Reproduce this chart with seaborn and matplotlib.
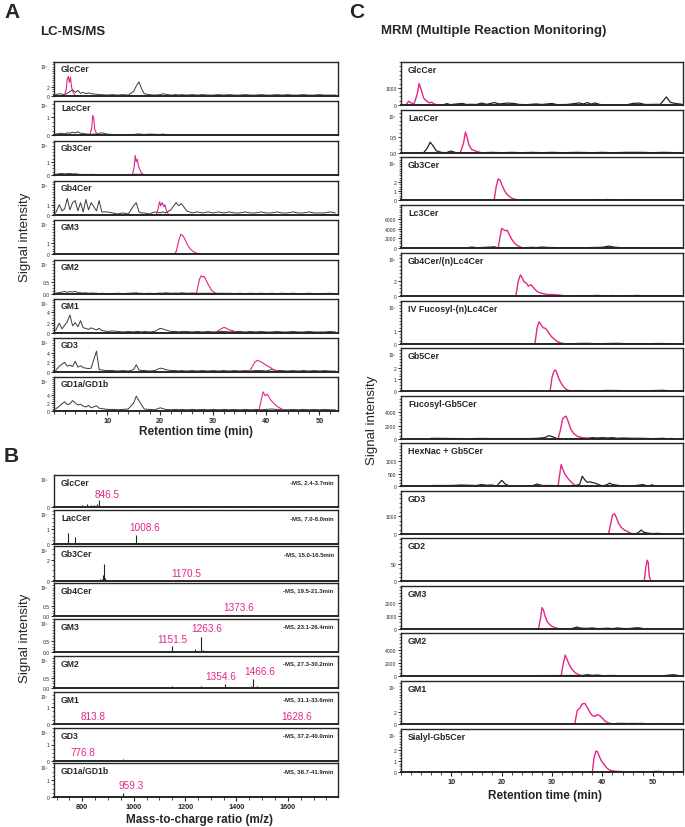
import numpy as np
import matplotlib
matplotlib.use("Agg")
import matplotlib.pyplot as plt
import matplotlib.ticker as mticker
import seaborn as sns

sns.set_style("ticks")
plt.rcParams["font.family"] = ["Liberation Sans", "DejaVu Sans"]

PINK = "#e3258c"
BLACK = "#222222"

# ---------------- Panel A: LC-MS/MS chromatograms (x1e5) ----------------
a_names = ["GlcCer", "LacCer", "Gb3Cer", "Gb4Cer", "GM3", "GM2", "GM1", "GD3", "GD1a/GD1b"]
a_ymax = [7.5, 1.9, 2.6, 3.3, 3.1, 1.4, 6.6, 7.0, 8.5]
a_yticks = [[0, 2], [0, 1], [0, 1], [0, 1], [0, 1], [0.0, 0.5], [0, 2, 4], [0, 2, 4], [0, 2, 4]]
a_ytlab = [["0", "2"], ["0", "1"], ["0", "1"], ["0", "1"], ["0", "1"], ["0.0", "0.5"],
           ["0", "2", "4"], ["0", "2", "4"], ["0", "2", "4"]]

a_time = [0.3, 1, 1.5, 2, 2.5, 3, 3.5, 4, 4.5, 5, 5.5, 6, 6.5, 7, 8, 8.5, 9, 10, 11, 12, 13, 14, 15,
          15.5, 16, 16.5, 17, 18, 19, 20, 20.5, 21, 22, 23, 23.5, 24, 25, 26, 27, 28, 29, 30, 31, 32,
          33, 34, 35, 36, 37, 38, 39, 40, 41, 42, 43, 44, 45, 46, 47, 48, 49, 50, 51, 52, 53]
a_black = [
    [0.3, 0.5, 0.4, 0.3, 0.6, 1.0, 1.4, 0.8, 1.2, 0.6, 0.8, 0.5, 0.7, 0.5, 0.4, 0.3, 0.3, 0.2, 0.3,
     0.2, 0.3, 0.2, 1.0, 2.2, 3.1, 1.6, 0.5, 0.3, 0.2, 0.3, 0.5, 0.4, 0.2, 0.3, 0.2, 0.3, 0.2, 0.3,
     0.2, 0.3, 0.2, 0.2, 0.3, 0.2, 0.3, 0.2, 0.2, 0.3, 0.2, 0.2, 0.3, 0.2, 0.2, 0.3, 0.2, 0.3, 0.2,
     0.2, 0.3, 0.2, 0.2, 0.3, 0.2, 0.2, 0.2],
    [0.05, 0.08, 0.1, 0.06, 0.12, 0.1, 0.15, 0.12, 0.18, 0.1, 0.08, 0.06, 0.05, 0.04, 0.06, 0.1, 0.12,
     0.05, 0.03, 0.02, 0.02, 0.03, 0.02, 0.05, 0.06, 0.04, 0.03, 0.05, 0.04, 0.03, 0.05, 0.03, 0.02,
     0.03, 0.02, 0.02, 0.02, 0.02, 0.03, 0.02, 0.02, 0.02, 0.02, 0.03, 0.02, 0.02, 0.02, 0.03, 0.02,
     0.02, 0.02, 0.02, 0.03, 0.02, 0.02, 0.02, 0.02, 0.02, 0.02, 0.03, 0.02, 0.02, 0.02, 0.02, 0.02],
    [0.05, 0.1, 0.12, 0.08, 0.1, 0.12, 0.08, 0.1, 0.06, 0.05, 0.04, 0.05, 0.04, 0.05, 0.04, 0.04, 0.03,
     0.03, 0.04, 0.03, 0.03, 0.04, 0.05, 0.06, 0.05, 0.06, 0.04, 0.03, 0.04, 0.03, 0.04, 0.03, 0.03,
     0.04, 0.03, 0.03, 0.04, 0.03, 0.03, 0.04, 0.03, 0.03, 0.03, 0.04, 0.03, 0.03, 0.04, 0.03, 0.03,
     0.03, 0.04, 0.03, 0.03, 0.03, 0.04, 0.03, 0.03, 0.03, 0.03, 0.04, 0.03, 0.03, 0.03, 0.03, 0.03],
    [0.2, 1.0, 0.4, 0.6, 1.6, 0.5, 1.2, 1.4, 0.4, 1.2, 0.3, 1.5, 0.5, 1.2, 0.4, 1.4, 0.3, 0.3, 0.2,
     0.1, 0.2, 0.1, 0.9, 1.2, 0.3, 0.2, 0.2, 0.1, 0.3, 0.2, 0.3, 0.2, 0.5, 1.2, 0.9, 1.1, 0.4, 0.2,
     0.3, 0.2, 0.3, 0.2, 0.3, 0.2, 0.3, 0.2, 0.2, 0.3, 0.2, 0.2, 0.3, 0.2, 0.2, 0.3, 0.2, 0.2, 0.3,
     0.2, 0.2, 0.3, 0.2, 0.2, 0.2, 0.3, 0.2],
    [0.02, 0.03, 0.02, 0.04, 0.02, 0.03, 0.02, 0.03, 0.02, 0.02, 0.02, 0.02, 0.02, 0.02, 0.02, 0.02,
     0.02, 0.02, 0.02, 0.02, 0.02, 0.02, 0.02, 0.02, 0.03, 0.02, 0.02, 0.02, 0.02, 0.02, 0.02, 0.02,
     0.02, 0.02, 0.02, 0.02, 0.02, 0.02, 0.03, 0.04, 0.03, 0.02, 0.02, 0.02, 0.02, 0.02, 0.02, 0.02,
     0.02, 0.02, 0.02, 0.02, 0.02, 0.02, 0.02, 0.02, 0.02, 0.02, 0.02, 0.02, 0.02, 0.02, 0.02, 0.02, 0.02],
    [0.03, 0.06, 0.08, 0.1, 0.07, 0.1, 0.08, 0.11, 0.06, 0.05, 0.04, 0.05, 0.03, 0.04, 0.03, 0.02,
     0.03, 0.02, 0.02, 0.03, 0.02, 0.03, 0.04, 0.05, 0.03, 0.03, 0.02, 0.03, 0.02, 0.04, 0.03, 0.05,
     0.03, 0.04, 0.03, 0.05, 0.03, 0.04, 0.03, 0.03, 0.03, 0.03, 0.03, 0.03, 0.03, 0.02, 0.03, 0.02,
     0.03, 0.02, 0.03, 0.02, 0.03, 0.02, 0.03, 0.02, 0.03, 0.02, 0.02, 0.03, 0.02, 0.02, 0.02, 0.03, 0.02],
    [0.5, 1.9, 0.8, 1.5, 2.2, 3.5, 1.4, 2.0, 1.2, 2.4, 1.0, 0.9, 0.7, 1.0, 0.6, 0.9, 0.5, 0.3, 0.4,
     0.3, 0.2, 0.3, 0.2, 0.3, 0.3, 0.2, 0.3, 0.2, 0.3, 0.9, 0.8, 0.6, 0.3, 0.3, 0.2, 0.3, 0.3, 0.2,
     0.3, 0.2, 0.3, 0.2, 0.3, 0.3, 0.2, 0.3, 0.3, 0.2, 0.3, 0.2, 0.3, 0.2, 0.2, 0.3, 0.2, 0.2, 0.3,
     0.2, 0.2, 0.3, 0.2, 0.2, 0.2, 0.3, 0.2],
    [0.3, 1.2, 1.6, 2.0, 1.2, 1.4, 1.1, 2.2, 1.0, 1.3, 0.9, 0.8, 0.7, 0.8, 4.3, 0.5, 0.4, 0.3, 0.3,
     0.2, 0.3, 0.2, 0.5, 1.5, 0.4, 0.3, 0.3, 0.2, 0.3, 0.8, 0.7, 0.5, 0.3, 0.3, 0.2, 0.3, 0.2, 0.3,
     0.2, 0.3, 0.2, 0.3, 0.2, 0.3, 0.2, 0.3, 0.2, 0.3, 0.2, 0.3, 0.3, 0.2, 0.5, 0.3, 0.3, 0.2, 0.3,
     0.2, 0.3, 0.2, 0.3, 0.2, 0.3, 0.2, 0.2],
    [0.5, 1.2, 1.8, 2.3, 1.6, 1.8, 2.6, 2.0, 1.5, 1.7, 1.2, 1.0, 1.4, 0.8, 1.3, 0.7, 0.6, 0.4, 0.4,
     0.3, 0.4, 0.5, 2.0, 3.7, 2.6, 1.5, 0.5, 0.4, 0.3, 0.8, 0.6, 0.4, 0.3, 0.4, 0.3, 0.4, 0.3, 0.4,
     0.3, 0.4, 0.3, 0.4, 0.3, 0.4, 0.3, 0.4, 0.3, 0.4, 0.3, 0.4, 0.3, 0.4, 0.5, 0.4, 0.4, 0.3, 0.4,
     0.3, 0.4, 0.3, 0.4, 0.3, 0.4, 0.3, 0.3],
]
a_pink_t = [
    [2.0, 2.3, 2.5, 2.7, 2.9, 3.1, 3.3, 3.6, 3.9],
    [6.8, 7.1, 7.3, 7.5, 7.7, 8.0, 8.3],
    [14.8, 15.1, 15.3, 15.5, 15.7, 15.9, 16.1, 16.4, 16.8],
    [19.3, 19.6, 19.9, 20.1, 20.4, 20.7, 20.9, 21.2, 21.5],
    [22.7, 23.0, 23.3, 23.6, 23.9, 24.2, 24.5, 24.9, 25.3, 25.8, 26.3, 26.8, 27.3],
    [26.8, 27.1, 27.4, 27.7, 28.0, 28.3, 28.6, 28.9, 29.3, 29.7, 30.2, 30.7],
    [30.5, 31.0, 31.5, 32.0, 32.5, 33.0, 33.5, 34.0, 34.5],
    [36.8, 37.3, 37.8, 38.3, 38.8, 39.3, 39.8, 40.3, 40.8, 41.3, 41.8, 42.3],
    [38.6, 39.0, 39.4, 39.8, 40.2, 40.6, 41.0, 41.5, 42.0, 42.5, 43.0, 43.5],
]
a_pink_y = [
    [0.2, 1.5, 3.8, 4.3, 3.0, 4.2, 2.0, 0.8, 0.3],
    [0.05, 0.4, 1.1, 0.9, 0.3, 0.1, 0.05],
    [0.05, 0.6, 1.5, 1.0, 1.2, 0.7, 0.5, 0.2, 0.05],
    [0.1, 0.6, 1.3, 0.9, 1.2, 0.8, 1.0, 0.4, 0.1],
    [0.0, 0.2, 0.8, 1.4, 1.8, 1.7, 1.5, 1.1, 0.7, 0.4, 0.2, 0.08, 0.02],
    [0.0, 0.3, 0.6, 0.75, 0.7, 0.72, 0.6, 0.45, 0.3, 0.15, 0.06, 0.02],
    [0.1, 0.5, 0.8, 1.1, 0.9, 0.6, 0.5, 0.3, 0.1],
    [0.1, 1.0, 2.0, 2.4, 2.2, 1.9, 1.5, 1.2, 0.9, 0.5, 0.3, 0.1],
    [0.1, 2.5, 4.8, 3.8, 4.2, 3.2, 2.5, 1.8, 1.2, 0.8, 0.4, 0.1],
]

# ---------------- Panel B: MS spectra (x1e5) ----------------
b_names = a_names
b_ranges = ["-MS, 2.4-3.7min", "-MS, 7.0-8.0min", "-MS, 15.0-16.5min", "-MS, 19.5-21.3min",
            "-MS, 23.1-26.4min", "-MS, 27.3-30.2min", "-MS, 31.1-33.6min", "-MS, 37.2-40.0min",
            "-MS, 38.7-41.9min"]
b_ymax = [1.0, 2.3, 3.3, 1.6, 1.5, 1.6, 1.9, 2.0, 2.0]
b_yticks = [[0], [0, 1], [0, 2], [0.0, 0.5], [0.0, 0.5], [0.0, 0.5], [0, 1], [0, 1], [0, 1]]
b_ytlab = [["0"], ["0", "1"], ["0", "2"], ["0.0", "0.5"], ["0.0", "0.5"], ["0.0", "0.5"],
           ["0", "1"], ["0", "1"], ["0", "1"]]
b_mz = [
    [700, 725, 745, 770, 800, 812, 820, 835, 845, 857, 866, 880, 900, 950, 1000, 1050, 1100, 1150,
     1200, 1265, 1300, 1350, 1400, 1450, 1500, 1550, 1600, 1650, 1700, 1760],
    [700, 720, 746, 760, 773, 785, 800, 850, 896, 940, 975, 985, 1000, 1008, 1020, 1035, 1100, 1200,
     1263, 1300, 1400, 1500, 1600, 1700, 1780],
    [700, 760, 820, 860, 868, 875, 880, 885, 890, 900, 950, 1000, 1100, 1170, 1200, 1263, 1300, 1400,
     1500, 1600, 1700, 1780],
    [700, 750, 800, 850, 885, 920, 960, 1000, 1050, 1100, 1150, 1200, 1263, 1300, 1350, 1380, 1420,
     1460, 1500, 1550, 1600, 1650, 1700, 1760],
    [700, 760, 820, 880, 940, 1000, 1060, 1100, 1151, 1160, 1200, 1237, 1250, 1263, 1270, 1280, 1293,
     1320, 1400, 1500, 1600, 1700, 1780],
    [700, 760, 820, 880, 940, 1000, 1060, 1100, 1151, 1200, 1237, 1263, 1300, 1354, 1380, 1420, 1440,
     1455, 1466, 1480, 1500, 1540, 1600, 1700, 1780],
    [700, 760, 820, 880, 940, 1000, 1060, 1120, 1180, 1263, 1320, 1380, 1440, 1500, 1560, 1620, 1680,
     1740, 1780],
    [700, 760, 800, 850, 900, 930, 958, 975, 1000, 1060, 1120, 1180, 1263, 1320, 1380, 1440, 1500,
     1560, 1620, 1700, 1780],
    [700, 740, 780, 820, 860, 890, 920, 940, 958, 975, 1000, 1060, 1120, 1180, 1263, 1320, 1380, 1440,
     1500, 1560, 1620, 1700, 1780],
]
b_int = [
    [0.02, 0.02, 0.03, 0.02, 0.06, 0.04, 0.09, 0.07, 0.05, 0.08, 0.22, 0.03, 0.02, 0.02, 0.02, 0.01,
     0.02, 0.01, 0.02, 0.03, 0.01, 0.02, 0.01, 0.02, 0.01, 0.02, 0.01, 0.02, 0.01, 0.01],
    [0.02, 0.03, 0.75, 0.05, 0.5, 0.06, 0.03, 0.03, 0.06, 0.03, 0.05, 0.07, 0.04, 0.6, 0.06, 0.08,
     0.02, 0.02, 0.03, 0.02, 0.02, 0.02, 0.02, 0.02, 0.02],
    [0.02, 0.02, 0.03, 0.1, 0.2, 0.15, 0.6, 1.6, 0.3, 0.1, 0.03, 0.02, 0.02, 0.04, 0.02, 0.03, 0.02,
     0.02, 0.02, 0.02, 0.02, 0.02],
    [0.02, 0.02, 0.02, 0.02, 0.05, 0.02, 0.02, 0.02, 0.02, 0.02, 0.03, 0.02, 0.04, 0.02, 0.02, 0.04,
     0.02, 0.02, 0.02, 0.02, 0.02, 0.02, 0.02, 0.02],
    [0.01, 0.01, 0.01, 0.02, 0.01, 0.01, 0.02, 0.02, 0.27, 0.03, 0.02, 0.12, 0.04, 0.68, 0.08, 0.05,
     0.06, 0.02, 0.01, 0.01, 0.01, 0.01, 0.01],
    [0.01, 0.01, 0.02, 0.01, 0.02, 0.02, 0.01, 0.02, 0.08, 0.02, 0.04, 0.1, 0.03, 0.18, 0.04, 0.03,
     0.05, 0.08, 0.45, 0.08, 0.05, 0.04, 0.02, 0.01, 0.01],
    [0.02, 0.02, 0.02, 0.02, 0.02, 0.02, 0.02, 0.02, 0.02, 0.04, 0.02, 0.02, 0.02, 0.02, 0.02, 0.02,
     0.02, 0.02, 0.02],
    [0.02, 0.02, 0.03, 0.02, 0.02, 0.03, 0.15, 0.03, 0.02, 0.02, 0.02, 0.02, 0.02, 0.02, 0.02, 0.02,
     0.02, 0.02, 0.02, 0.02, 0.02],
    [0.02, 0.03, 0.02, 0.02, 0.03, 0.04, 0.04, 0.03, 0.22, 0.04, 0.03, 0.02, 0.02, 0.02, 0.02, 0.02,
     0.02, 0.02, 0.02, 0.02, 0.02, 0.02, 0.02],
]
# pink peak labels: (text, m/z centre, fraction of axis height)
b_labels = [
    [("846.5", 896, 0.42)],
    [("1008.6", 1042, 0.5)],
    [("1170.5", 1204, 0.24)],
    [("1373.6", 1408, 0.28)],
    [("1263.6", 1285, 0.74), ("1151.5", 1150, 0.38)],
    [("1354.6", 1338, 0.36), ("1466.6", 1492, 0.54)],
    [("813.8", 842, 0.24), ("1628.6", 1635, 0.24)],
    [("776.8", 804, 0.28)],
    [("959.3", 992, 0.36)],
]

# ---------------- Panel C: MRM chromatograms ----------------
c_names = ["GlcCer", "LacCer", "Gb3Cer", "Lc3Cer", "Gb4Cer/(n)Lc4Cer", "IV Fucosyl-(n)Lc4Cer",
           "Gb5Cer", "Fucosyl-Gb5Cer", "HexNac + Gb5Cer", "GD3", "GD2", "GM3", "GM2", "GM1",
           "Sialyl-Gb5Cer"]
c_ymax = [2500, 1.35, 4.8, 9000, 5.7, 3.3, 3.7, 6400, 1750, 2400, 128, 3300, 6600, 7.3, 3.9]
c_yticks = [[0, 1000], [0.0, 0.5], [0, 1, 2], [0, 2000, 4000, 6000], [0, 2], [0, 1], [0, 1, 2],
            [0, 2000, 4000], [0, 500, 1000], [0, 1000], [0, 50], [0, 1000, 2000], [0, 2000, 4000],
            [0, 2], [0, 1, 2]]
c_ytlab = [["0", "1000"], ["0.0", "0.5"], ["0", "1", "2"], ["0", "2000", "4000", "6000"],
           ["0", "2"], ["0", "1"], ["0", "1", "2"], ["0", "2000", "4000"], ["0", "500", "1000"],
           ["0", "1000"], ["0", "50"], ["0", "1000", "2000"], ["0", "2000", "4000"], ["0", "2"],
           ["0", "1", "2"]]
c_exp = [False, True, True, False, True, True, True, False, False, False, False, False, False,
         True, True]
c_pink_t = [
    [1.0, 1.5, 2.0, 2.6, 3.2, 3.6, 4.0, 4.5, 5.0, 5.6, 6.1, 6.6, 7.2],
    [11.2, 11.8, 12.4, 12.8, 13.1, 13.5, 14.0, 14.5, 15.0, 15.5, 16.0, 16.5],
    [18.5, 18.9, 19.3, 19.7, 20.1, 20.6, 21.1, 21.6, 22.2, 22.8, 23.5],
    [19.3, 19.7, 20.0, 20.4, 20.8, 21.1, 21.5, 22.0, 22.5, 23.0, 23.5, 24.0, 24.5],
    [22.8, 23.3, 23.7, 24.0, 24.4, 24.9, 25.3, 25.8, 26.2, 26.7, 27.3, 28, 29, 30, 31, 32, 33],
    [26.6, 27.0, 27.4, 27.8, 28.2, 28.7, 29.2, 29.8, 30.5, 31.2, 32.0, 33.0],
    [29.6, 30.0, 30.4, 30.7, 31.0, 31.4, 31.9, 32.4, 33.0, 33.6],
    [31.2, 31.7, 32.1, 32.5, 32.8, 33.2, 33.7, 34.3, 35.0, 36.0, 37.0],
    [31.2, 31.5, 31.8, 32.1, 32.5, 33.0, 33.6, 34.2, 34.8],
    [41.2, 41.6, 42.0, 42.4, 42.8, 43.2, 43.8, 44.5, 45.2, 46.0],
    [48.3, 48.6, 48.9, 49.1, 49.3, 49.6],
    [27.3, 27.7, 28.0, 28.3, 28.6, 29.0, 29.5, 30.0, 30.6, 31.3, 32.0],
    [31.8, 32.2, 32.6, 33.0, 33.5, 34.0, 34.6, 35.3, 36.0],
    [34.5, 35.0, 35.5, 36.0, 36.5, 37.0, 37.5, 38.0, 38.5, 39.0, 39.5, 40.0, 40.5, 41.0, 42.0],
    [38.0, 38.3, 38.7, 39.0, 39.4, 39.8, 40.3, 40.8, 41.3, 42.0, 43.0, 44.0, 45.0],
]
c_pink_y = [
    [0, 220, 120, 80, 600, 1250, 900, 400, 250, 120, 160, 60, 0],
    [0.0, 0.02, 0.3, 0.66, 0.5, 0.25, 0.12, 0.08, 0.05, 0.03, 0.01, 0.0],
    [0, 1.5, 2.35, 2.2, 1.6, 1.0, 0.6, 0.35, 0.15, 0.06, 0],
    [0, 2500, 4100, 3800, 3600, 3700, 2800, 1800, 1100, 600, 300, 100, 0],
    [0, 2.0, 2.8, 2.5, 1.9, 1.7, 1.3, 1.5, 1.2, 0.8, 0.5, 0.35, 0.2, 0.2, 0.15, 0.08, 0],
    [0, 1.2, 1.7, 1.5, 1.25, 1.2, 0.95, 0.6, 0.35, 0.15, 0.05, 0],
    [0, 1.2, 1.75, 1.8, 1.5, 1.0, 0.6, 0.3, 0.1, 0],
    [0, 1500, 3000, 3300, 3400, 2600, 1500, 800, 400, 200, 100],
    [0, 450, 870, 700, 500, 350, 200, 80, 0],
    [0, 500, 1050, 1130, 900, 600, 350, 200, 100, 0],
    [0, 40, 62, 55, 15, 0],
    [0, 800, 1640, 1450, 1000, 600, 350, 200, 100, 30, 0],
    [0, 1800, 3200, 2500, 1600, 1000, 500, 200, 0],
    [0, 2.3, 2.7, 3.4, 3.5, 2.8, 2.0, 1.4, 1.3, 1.6, 1.4, 1.0, 0.5, 0.25, 0],
    [0, 1.2, 1.9, 1.85, 1.4, 1.0, 0.7, 0.4, 0.2, 0.1, 0.05, 0.04, 0],
]
c_black_t = [
    [7.2, 8.5, 9.1, 9.8, 11, 12.2, 13, 14, 15, 16, 17, 18.5, 19.5, 21, 22.5, 23.5, 25, 26.8, 28, 30,
     31, 33, 35.4, 36.2, 37, 37.8, 38.5, 39.5, 41, 45, 46, 47.3, 48.5, 51.5, 52.7, 53.5, 54.7, 55.8],
    [3, 4.5, 5.2, 5.8, 6.4, 7, 8, 9, 9.5, 10, 10.5, 11.2, 16.5, 18, 20, 22, 24, 26, 28, 30, 32, 35,
     38, 40, 42, 45, 48, 50, 52, 55],
    [23.5, 30, 37, 38, 40, 41, 42, 44, 46, 48],
    [13, 14, 15, 16, 17, 18, 18.5, 19.3, 24.5, 26, 27, 28, 29, 30, 32, 34, 36, 38, 40, 41.3, 42.5, 44,
     46, 48],
    [33, 35, 37, 39, 40, 42, 44, 46, 47, 48, 50, 52, 54, 55.5],
    [15, 33, 35, 37, 39, 41, 43, 45, 47, 49, 51, 53, 55],
    [26, 28, 29.6, 33.6, 35, 37, 39, 41, 43, 45, 47, 49, 51, 52, 53],
    [6, 13, 16, 18, 25, 27, 28.5, 29.4, 30.2, 31.2, 37, 38, 39, 40, 41, 42, 43, 44, 46, 48, 50, 52,
     53, 54],
    [6, 10, 12, 15, 16, 17, 18, 19, 20, 20.7, 21.5, 22, 26, 27, 28, 30, 31.2, 34.8, 35.5, 36, 36.5,
     37, 37.5, 38, 38.5, 39, 40, 41, 41.4, 42, 43, 44, 46, 48, 49, 50],
    [46, 47, 47.7, 48.2, 49, 50, 51, 52],
    [48.3],
    [32, 33, 34, 35, 35.5, 36, 37, 38, 39, 40, 41, 42, 43, 44, 45, 46, 47, 48],
    [13, 24, 36, 37, 38, 39, 40, 42, 44, 46, 48, 50, 52, 54, 55],
    [42, 43, 44, 45, 46, 47, 48, 49, 50, 51, 52],
    [45, 46, 47, 49, 50, 51, 52],
]
c_black_y = [
    [0, 20, 80, 20, 60, 90, 30, 40, 30, 110, 40, 140, 60, 110, 90, 30, 20, 60, 30, 90, 20, 30, 120,
     60, 140, 50, 120, 30, 0, 20, 90, 110, 30, 40, 470, 150, 80, 40],
    [0, 0.01, 0.15, 0.34, 0.22, 0.07, 0.02, 0.01, 0.04, 0.06, 0.03, 0.0, 0.01, 0.02, 0.01, 0.02,
     0.01, 0.02, 0.01, 0.02, 0.01, 0.02, 0.01, 0.02, 0.01, 0.02, 0.02, 0.01, 0.02, 0.01],
    [0.02, 0.02, 0, 0.04, 0.02, 0.06, 0.02, 0.01, 0.04, 0],
    [0, 200, 50, 100, 150, 200, 250, 0, 0, 150, 80, 200, 120, 100, 50, 80, 60, 100, 150, 400, 150,
     60, 80, 0],
    [0, 0.05, 0.02, 0.08, 0.03, 0.06, 0.02, 0.05, 0.08, 0.03, 0.06, 0.02, 0.05, 0.04],
    [0.03, 0, 0.04, 0.05, 0.02, 0.04, 0.05, 0.02, 0.03, 0.02, 0.04, 0.03, 0.02],
    [0.03, 0.02, 0, 0, 0.04, 0.03, 0.02, 0.05, 0.04, 0.02, 0.03, 0.02, 0.05, 0.06, 0.02],
    [100, 50, 80, 60, 60, 100, 200, 500, 300, 0, 100, 200, 150, 200, 150, 200, 100, 150, 100, 100, 50,
     100, 50, 80],
    [20, 20, 40, 20, 60, 30, 40, 0, 230, 80, 0, 0, 0, 80, 20, 20, 0, 20, 80, 400, 250, 150, 170, 140,
     120, 80, 0, 60, 120, 60, 30, 0, 0, 60, 0, 50],
    [0, 50, 220, 100, 50, 20, 40, 0],
    [0],
    [0, 20, 40, 150, 80, 60, 50, 80, 30, 40, 60, 30, 80, 40, 30, 60, 100, 40],
    [50, 50, 80, 200, 100, 150, 60, 80, 40, 60, 50, 30, 40, 200, 100],
    [0, 0.1, 0.1, 0.08, 0.1, 0.08, 0.1, 0, 0, 0.08, 0],
    [0, 0.03, 0.02, 0, 0.04, 0.06, 0.03],
]

# ---------------- layout ----------------
W, H = 685, 828
fig = plt.figure(figsize=(W / 100, H / 100), dpi=100)


def px_axes(left, top, w, h):
    return fig.add_axes([left / W, 1 - (top + h) / H, w / W, h / H])


def ftext(x, y, s, **kw):
    fig.text(x / W, 1 - y / H, s, **kw)


def style_axes(ax, ymax, yticks, ylabs, xlim, show_x, exp):
    ax.set_ylim(0, ymax)
    ax.set_xlim(*xlim)
    ax.set_yticks(yticks)
    ax.set_yticklabels(ylabs)
    ax.yaxis.set_minor_locator(mticker.AutoMinorLocator(4))
    ax.tick_params(axis="y", labelsize=3.6, length=2.2, width=0.7, pad=1)
    ax.tick_params(axis="y", which="minor", length=1.3, width=0.5)
    ax.tick_params(axis="x", which="major", length=3, width=0.8, labelsize=5.5, pad=1)
    ax.tick_params(axis="x", which="minor", length=1.8, width=0.6)
    if not show_x:
        ax.tick_params(axis="x", which="both", labelbottom=False, length=0)
    for sp in ax.spines.values():
        sp.set_visible(True)
        sp.set_linewidth(1.0)
    ax.spines["bottom"].set_linewidth(1.4)
    ax.set_xlabel("")
    ax.set_ylabel("")
    if exp:
        ax.text(-0.02, 0.86, "10⁵", transform=ax.transAxes, ha="right", va="center",
                fontsize=3.4)


# Panel A
a_tops = [63, 102, 142, 182, 221, 261, 300, 339, 378]
for i, name in enumerate(a_names):
    ax = px_axes(54, a_tops[i], 284, 34)
    sns.lineplot(x=a_time, y=a_black[i], ax=ax, color="#3a3a3a", lw=0.7,
                 estimator=None, sort=False)
    sns.lineplot(x=a_pink_t[i], y=a_pink_y[i], ax=ax, color=PINK, lw=0.8,
                 estimator=None, sort=False)
    ax.xaxis.set_major_locator(mticker.MultipleLocator(10))
    ax.xaxis.set_minor_locator(mticker.MultipleLocator(2))
    style_axes(ax, a_ymax[i], a_yticks[i], a_ytlab[i], (0, 53.5), i == len(a_names) - 1, True)
    if i == len(a_names) - 1:
        ax.set_xticks([10, 20, 30, 40, 50])
        ax.set_xticklabels(["10", "20", "30", "40", "50"], fontweight="bold", fontsize=5.2)
    ax.text(0.025, 0.93, name, transform=ax.transAxes, ha="left", va="top",
            fontsize=6.2, fontweight="bold")

# Panel B
b_tops = [476, 511, 547, 584, 620, 657, 693, 729, 764]
b_h = [32, 34, 35, 33, 33, 32, 32, 33, 34]
for i, name in enumerate(b_names):
    ax = px_axes(54, b_tops[i], 284, b_h[i])
    ax.vlines(b_mz[i], 0, b_int[i], color=BLACK, lw=0.8)
    sns.lineplot(x=[690, 1795], y=[0.005, 0.005], ax=ax, color=BLACK, lw=0.6,
                 estimator=None, sort=False)
    ax.xaxis.set_major_locator(mticker.MultipleLocator(200))
    ax.xaxis.set_minor_locator(mticker.MultipleLocator(50))
    style_axes(ax, b_ymax[i], b_yticks[i], b_ytlab[i], (690, 1795), i == len(b_names) - 1, True)
    if i == len(b_names) - 1:
        ax.set_xticks([800, 1000, 1200, 1400, 1600])
        ax.set_xticklabels(["800", "1000", "1200", "1400", "1600"], fontweight="bold",
                           fontsize=5.2)
    ax.text(0.025, 0.92, name, transform=ax.transAxes, ha="left", va="top",
            fontsize=6.2, fontweight="bold")
    ax.text(0.985, 0.86, b_ranges[i], transform=ax.transAxes, ha="right", va="top",
            fontsize=4.3, fontweight="bold")
    for txt, mz, fy in b_labels[i]:
        ax.text(mz, fy * b_ymax[i], txt, ha="center", va="center", color=PINK, fontsize=7.2)

# Panel C
c_tops = [63, 111, 158, 206, 254, 302, 349, 397, 444, 492, 539, 587, 634, 682, 730]
for i, name in enumerate(c_names):
    ax = px_axes(401, c_tops[i], 282, 43)
    if len(c_black_t[i]) > 1:
        sns.lineplot(x=c_black_t[i], y=c_black_y[i], ax=ax, color=BLACK, lw=0.9,
                     estimator=None, sort=False)
    sns.lineplot(x=c_pink_t[i], y=c_pink_y[i], ax=ax, color=PINK, lw=1.0,
                 estimator=None, sort=False)
    ax.xaxis.set_major_locator(mticker.MultipleLocator(10))
    ax.xaxis.set_minor_locator(mticker.MultipleLocator(2))
    style_axes(ax, c_ymax[i], c_yticks[i], c_ytlab[i], (0, 56), i == len(c_names) - 1, c_exp[i])
    if i == len(c_names) - 1:
        ax.set_xticks([10, 20, 30, 40, 50])
        ax.set_xticklabels(["10", "20", "30", "40", "50"], fontweight="bold", fontsize=5.2)
    ax.text(0.025, 0.93, name, transform=ax.transAxes, ha="left", va="top",
            fontsize=6.4, fontweight="bold")

# Titles and axis labels
ftext(4, 13, "A", fontsize=15, fontweight="bold", va="center", ha="left")
ftext(40, 32, "LC-MS/MS", fontsize=9.5, fontweight="bold", va="center", ha="left")
ftext(4, 457, "B", fontsize=15, fontweight="bold", va="center", ha="left")
ftext(349, 13, "C", fontsize=15, fontweight="bold", va="center", ha="left")
ftext(381, 31, "MRM (Multiple Reaction Monitoring)", fontsize=9.5, fontweight="bold",
      va="center", ha="left")

ftext(25, 237, "Signal intensity", fontsize=9.5, rotation=90, va="center", ha="center")
ftext(25, 638, "Signal intensity", fontsize=9.5, rotation=90, va="center", ha="center")
ftext(372, 420, "Signal intensity", fontsize=9.5, rotation=90, va="center", ha="center")
ftext(196, 432, "Retention time (min)", fontsize=8.5, fontweight="bold", va="center", ha="center")
ftext(200, 820, "Mass-to-charge ratio (m/z)", fontsize=8.5, fontweight="bold", va="center",
      ha="center")
ftext(545, 796, "Retention time (min)", fontsize=8.5, fontweight="bold", va="center", ha="center")

fig.savefig("out.png", dpi=100)
